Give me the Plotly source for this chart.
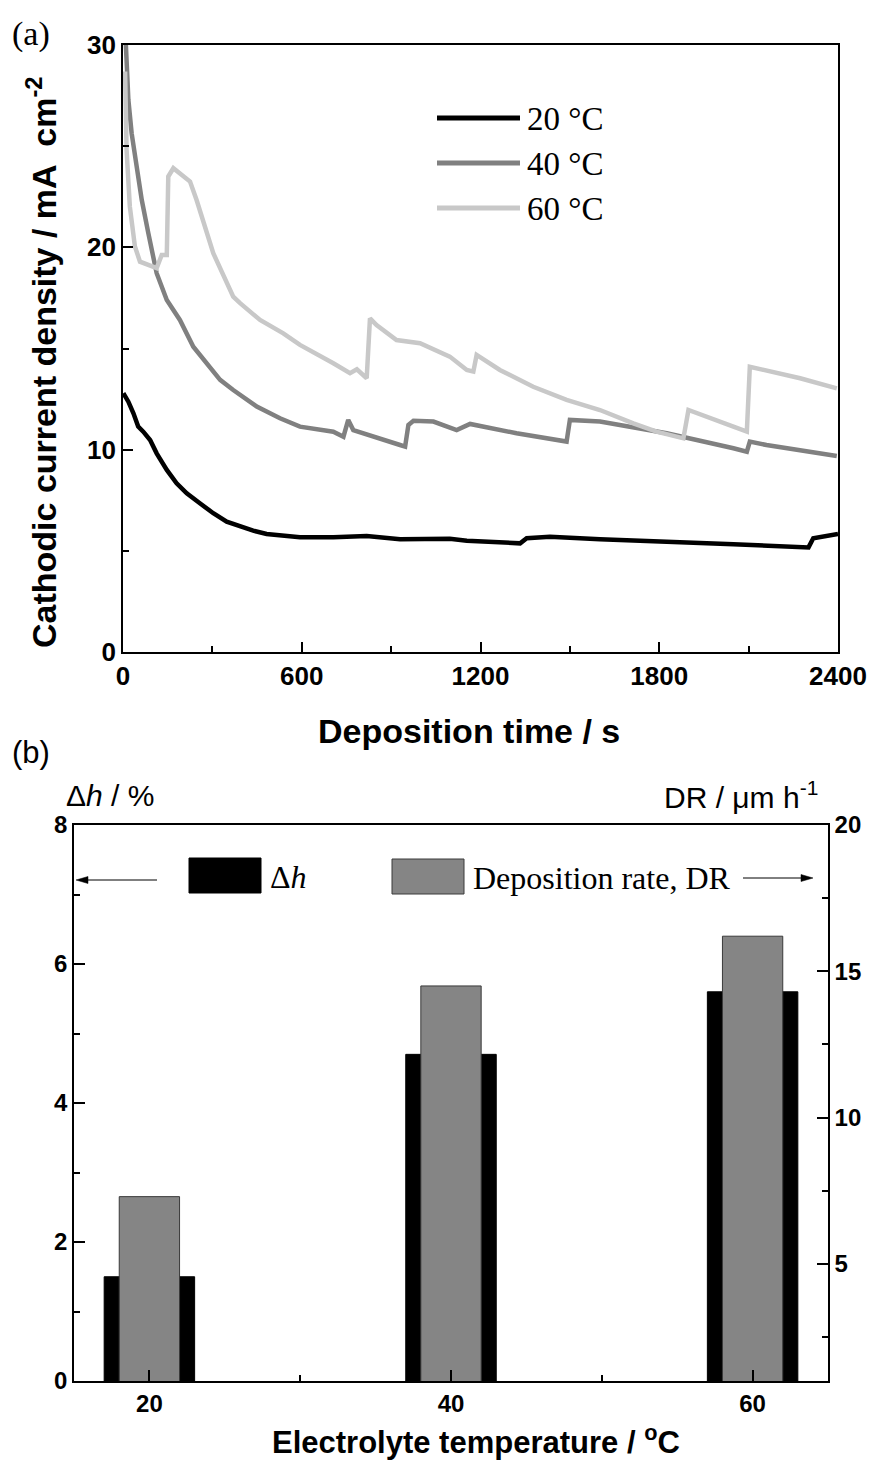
import plotly.graph_objects as go

W, H = 876, 1461

# ---------------- data: panel (a) ----------------
t20 = [1, 18, 35, 51, 68, 91, 113, 147, 180, 214, 258, 303, 348, 393, 437, 482, 538, 594, 706, 818, 930, 1097, 1154,
       1333, 1355, 1433, 1601, 1825, 2049, 2301, 2317, 2400]
j20 = [12.79, 12.37, 11.80, 11.14, 10.89, 10.48, 9.82, 9.0, 8.34, 7.84, 7.35, 6.86, 6.44, 6.19, 6.0, 5.83, 5.73, 5.67, 5.67, 5.73, 5.57, 5.6, 5.50,
       5.37, 5.62, 5.70, 5.57, 5.42, 5.32, 5.17, 5.62, 5.83]

t40 = [5, 10, 18, 29, 46, 63, 85, 113, 147, 191, 236, 281, 326, 370, 449, 527, 594, 706, 740, 756, 773, 930, 947, 958, 975,
       1042, 1120, 1165, 1321, 1489, 1500, 1601, 1825, 2049, 2094, 2104, 2160, 2396]
j40 = [31.5, 29.92, 27.29, 25.64, 23.99, 22.34, 20.70, 18.72, 17.40, 16.41, 15.09, 14.27, 13.45, 12.95, 12.13, 11.55, 11.14, 10.89, 10.64, 11.47, 10.97, 10.23, 10.15, 11.22, 11.43,
       11.39, 10.97, 11.27, 10.81, 10.40, 11.47, 11.39, 10.81, 10.07, 9.90, 10.40, 10.23, 9.69]

t60 = [7, 12, 23, 40, 57, 91, 113, 130, 147, 152, 169, 225, 247, 303, 370, 393, 460, 538, 594, 706, 762, 785, 818, 829, 851,
       918, 997, 1097, 1154, 1176, 1187, 1265, 1377, 1489, 1601, 1713, 1791, 1881, 1898, 2049, 2094, 2104, 2273, 2396]
j60 = [28.69, 24.81, 22.01, 20.04, 19.29, 19.13, 18.97, 19.62, 19.62, 23.5, 23.91, 23.25, 22.34, 19.71, 17.56, 17.24, 16.41, 15.75, 15.18, 14.27, 13.78, 13.97, 13.53, 16.49, 16.16,
       15.42, 15.26, 14.60, 13.94, 13.86, 14.68, 13.94, 13.11, 12.46, 11.96, 11.30, 10.89, 10.56, 11.96, 11.14, 10.89, 14.10, 13.53, 13.03]

series_names = ["20 °C", "40 °C", "60 °C"]
series_colors = ["#000000", "#808080", "#c8c8c8"]

# ---------------- data: panel (b) ----------------
temps = [20, 40, 60]
dh = [1.5, 4.7, 5.6]          # Δh / %
dr = [7.3, 14.5, 16.2]        # DR / µm h-1
temp_ticks = [20, 40, 60]


def px(x):
    return x / W


def py(y):
    return 1 - y / H


fig = go.Figure()

for t, j, name, col in zip([t20, t40, t60], [j20, j40, j60], series_names, series_colors):
    fig.add_trace(go.Scatter(x=t, y=j, mode="lines", name=name,
                             line=dict(color=col, width=4.5), xaxis="x", yaxis="y",
                             showlegend=False))

fig.add_trace(go.Bar(x=temps, y=dh, width=6, name="Δh", marker=dict(color="#000000", line=dict(color="#000000", width=1)),
                     xaxis="x2", yaxis="y2", showlegend=False))
fig.add_trace(go.Bar(x=temps, y=dr, width=4, name="Deposition rate, DR",
                     marker=dict(color="#858585", line=dict(color="#3a3a3a", width=1)),
                     xaxis="x2", yaxis="y3", showlegend=False))

tickfont_a = dict(family="Liberation Sans, Arial", size=26, color="black", weight="bold")
tickfont_b = dict(family="Liberation Sans, Arial", size=24, color="black", weight="bold")
axcommon = dict(showgrid=False, zeroline=False, showline=True, linecolor="black", linewidth=1.6,
                ticks="inside", tickcolor="black", tickwidth=1.5, automargin=False)

fig.update_layout(
    width=W, height=H, margin=dict(l=0, r=0, t=0, b=0, autoexpand=False),
    paper_bgcolor="white", plot_bgcolor="white", barmode="overlay",
    xaxis=dict(domain=[px(123), px(838)], anchor="y", range=[0, 2400], tick0=0, dtick=600,
               ticklen=10, mirror=True, tickfont=tickfont_a,
               minor=dict(ticks="inside", ticklen=6, dtick=300, tickcolor="black", tickwidth=1.5),
               **axcommon),
    yaxis=dict(domain=[py(652), py(45)], anchor="x", range=[0, 30], tick0=0, dtick=10,
               ticklen=10, mirror=True, tickfont=tickfont_a,
               minor=dict(ticks="inside", ticklen=6, dtick=5, tickcolor="black", tickwidth=1.5),
               **axcommon),
    xaxis2=dict(domain=[px(74), px(828)], anchor="y2", range=[15, 65], tickvals=temp_ticks,
                ticklen=11, mirror=True, tickfont=tickfont_b,
                minor=dict(ticks="inside", ticklen=6, tickvals=[30, 50], tickcolor="black", tickwidth=1.5),
                **axcommon),
    yaxis2=dict(domain=[py(1381), py(825)], anchor="x2", range=[0, 8], tick0=0, dtick=2,
                ticklen=11, tickfont=tickfont_b,
                minor=dict(ticks="inside", ticklen=6, dtick=1, tickcolor="black", tickwidth=1.5),
                **axcommon),
    yaxis3=dict(overlaying="y2", anchor="x2", side="right", range=[1, 20], tick0=0, dtick=5,
                ticklen=11, tickfont=tickfont_b,
                minor=dict(ticks="inside", ticklen=6, tickvals=[2.5, 7.5, 12.5, 17.5], tickcolor="black", tickwidth=1.5),
                **axcommon),
)

shapes = []
annotations = []

# legend of panel (a)
for i, (name, col) in enumerate(zip(series_names, series_colors)):
    yy = 118 + 45 * i
    shapes.append(dict(type="line", xref="paper", yref="paper", x0=px(437), x1=px(520), y0=py(yy), y1=py(yy),
                       line=dict(color=col, width=5)))
    annotations.append(dict(xref="paper", yref="paper", x=px(525), y=py(yy + 1), xanchor="left", yanchor="middle",
                            text=name, showarrow=False,
                            font=dict(family="Liberation Serif, Times New Roman", size=33, color="black")))

# legend of panel (b)
shapes.append(dict(type="rect", xref="paper", yref="paper", x0=px(189), x1=px(261), y0=py(893), y1=py(858),
                   fillcolor="#000000", line=dict(color="#000000", width=1)))
shapes.append(dict(type="rect", xref="paper", yref="paper", x0=px(392), x1=px(464), y0=py(894), y1=py(859),
                   fillcolor="#858585", line=dict(color="#3a3a3a", width=1)))
annotations.append(dict(xref="paper", yref="paper", x=px(268), y=py(877), xanchor="left", yanchor="middle",
                        text="Δ<i>h</i>", showarrow=False,
                        font=dict(family="Liberation Serif, Times New Roman", size=32, color="black")))
annotations.append(dict(xref="paper", yref="paper", x=px(471), y=py(878), xanchor="left", yanchor="middle",
                        text="Deposition rate, DR", showarrow=False,
                        font=dict(family="Liberation Serif, Times New Roman", size=32, color="black")))


# arrows drawn as shapes (shaft + filled head)
def arrow(x_tail, x_head, y):
    d = 1 if x_head > x_tail else -1
    shapes.append(dict(type="line", xref="paper", yref="paper", x0=px(x_tail), x1=px(x_head - d * 8),
                       y0=py(y), y1=py(y), line=dict(color="black", width=1)))
    path = "M {} {} L {} {} L {} {} Z".format(px(x_head), py(y), px(x_head - d * 12), py(y - 3.5),
                                              px(x_head - d * 12), py(y + 3.5))
    shapes.append(dict(type="path", xref="paper", yref="paper", path=path, fillcolor="black",
                       line=dict(color="black", width=0.5)))


arrow(157, 76, 880)
arrow(743, 813, 878)

# panel labels and titles
annotations += [
    dict(xref="paper", yref="paper", x=px(10), y=py(34), xanchor="left", yanchor="middle", text="(a)",
         showarrow=False, font=dict(family="Liberation Serif, Times New Roman", size=34, color="black")),
    dict(xref="paper", yref="paper", x=px(10), y=py(752), xanchor="left", yanchor="middle", text="(b)",
         showarrow=False, font=dict(family="Liberation Sans, Arial", size=31, color="black")),
    dict(xref="paper", yref="paper", x=px(42), y=py(362), xanchor="center", yanchor="middle", textangle=-90,
         text="<b>Cathodic current density / mA  cm<sup>-2</sup></b>", showarrow=False,
         font=dict(family="Liberation Sans, Arial", size=34, color="black")),
    dict(xref="paper", yref="paper", x=px(469), y=py(731), xanchor="center", yanchor="middle",
         text="<b>Deposition time / s</b>", showarrow=False,
         font=dict(family="Liberation Sans, Arial", size=34, color="black")),
    dict(xref="paper", yref="paper", x=px(476), y=py(1440), xanchor="center", yanchor="middle",
         text="<b>Electrolyte temperature / <sup>o</sup>C</b>", showarrow=False,
         font=dict(family="Liberation Sans, Arial", size=31, color="black")),
    dict(xref="paper", yref="paper", x=px(64), y=py(795), xanchor="left", yanchor="middle",
         text="Δ<i>h</i> / %", showarrow=False,
         font=dict(family="Liberation Sans, Arial", size=30, color="black")),
    dict(xref="paper", yref="paper", x=px(820), y=py(795), xanchor="right", yanchor="middle",
         text="DR / μm h<sup>-1</sup>", showarrow=False,
         font=dict(family="Liberation Sans, Arial", size=30, color="black")),
]

fig.update_layout(shapes=shapes, annotations=annotations)
fig.write_html("out.html")
